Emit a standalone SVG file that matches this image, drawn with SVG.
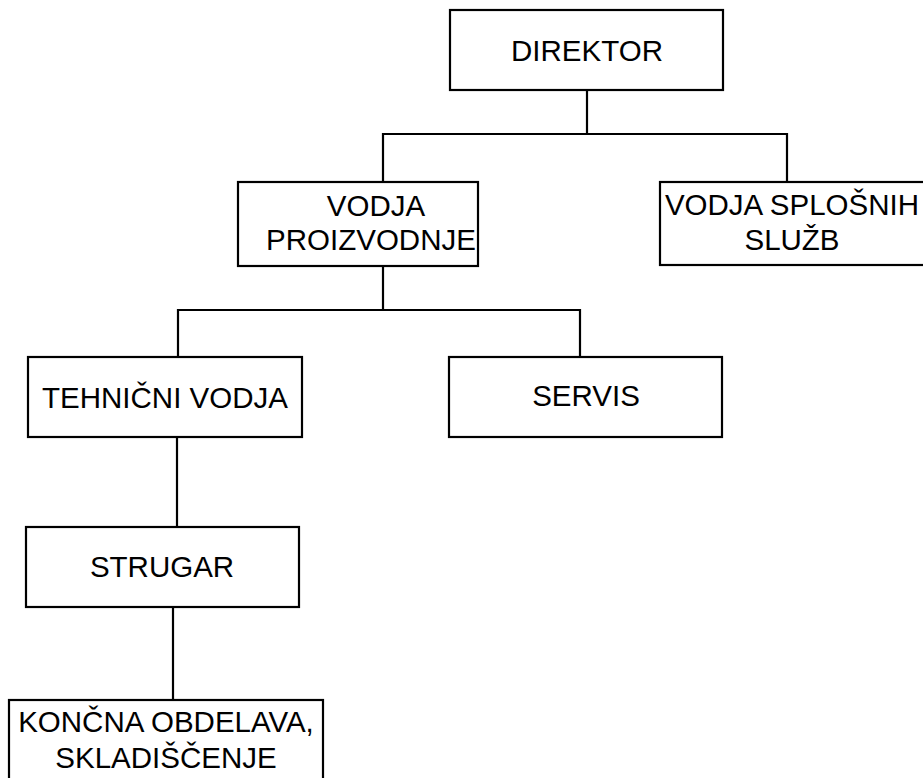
<svg xmlns="http://www.w3.org/2000/svg" width="923" height="778" viewBox="0 0 923 778">
<style>
.box{fill:#fff;stroke:#000;stroke-width:2.2}
.ln{fill:none;stroke:#000;stroke-width:2.2}
text{font-family:"Liberation Sans",Arial,sans-serif;font-size:29.5px;fill:#000;text-anchor:middle}
</style>
<rect width="923" height="778" fill="#fff"/>
<g id="connectors">
<polyline class="ln" points="587,90 587,134"/>
<polyline class="ln" points="383,182 383,134 787,134 787,182"/>
<polyline class="ln" points="383,266 383,310"/>
<polyline class="ln" points="178,357 178,310 580,310 580,357"/>
<polyline class="ln" points="177,437 177,527"/>
<polyline class="ln" points="173,607 173,700"/>
</g>
<g id="direktor">
<rect class="box" x="450" y="10" width="273" height="80"/>
<text x="587" y="61">DIREKTOR</text>
</g>
<g id="vodja-proizvodnje">
<rect class="box" x="238" y="182" width="240" height="84"/>
<text x="376" y="216">VODJA</text>
<text x="371" y="250">PROIZVODNJE</text>
</g>
<g id="vodja-splosnih">
<rect class="box" x="660" y="182" width="275" height="83"/>
<text x="792" y="215">VODJA SPLOŠNIH</text>
<text x="792" y="250">SLUŽB</text>
</g>
<g id="tehnicni-vodja">
<rect class="box" x="28" y="357" width="274" height="80"/>
<text x="165" y="408">TEHNIČNI VODJA</text>
</g>
<g id="servis">
<rect class="box" x="449" y="357" width="273" height="80"/>
<text x="586" y="406">SERVIS</text>
</g>
<g id="strugar">
<rect class="box" x="26" y="527" width="273" height="80"/>
<text x="162" y="577">STRUGAR</text>
</g>
<g id="koncna-obdelava">
<rect class="box" x="9" y="700" width="314" height="90"/>
<text x="166" y="732">KONČNA OBDELAVA,</text>
<text x="166" y="768">SKLADIŠČENJE</text>
</g>
</svg>
